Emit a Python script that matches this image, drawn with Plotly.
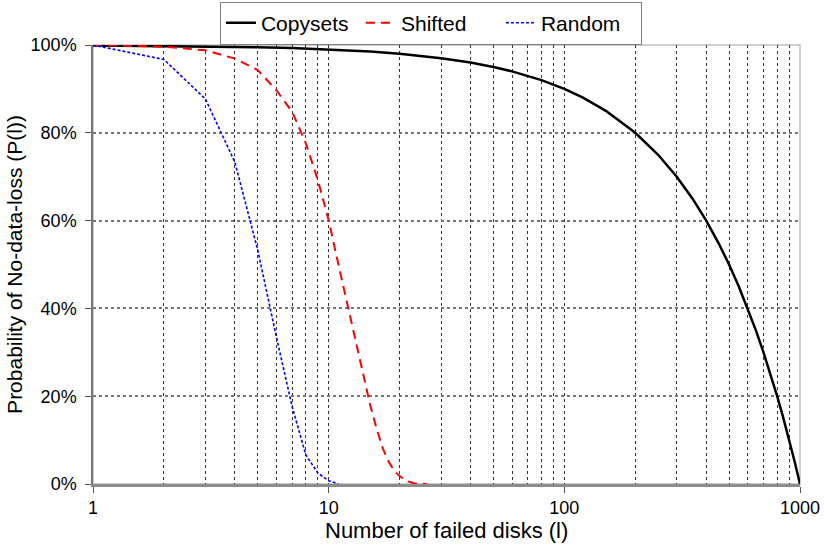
import plotly.graph_objects as go

# Data
copysets_x = [1, 2, 3, 5, 7, 10, 15, 20, 30, 40, 50, 60, 70, 80, 100, 120, 150, 200, 250, 300,
              350, 400, 450, 500, 550, 600, 650, 700, 750, 800, 850, 900, 950, 1000]
copysets_y = [0.999, 0.998, 0.997, 0.995, 0.993, 0.99, 0.985, 0.98, 0.97, 0.96, 0.95, 0.94, 0.93, 0.92,
              0.90, 0.88, 0.85, 0.80, 0.75, 0.70, 0.65, 0.60, 0.55, 0.50, 0.45, 0.40, 0.35, 0.30,
              0.25, 0.20, 0.15, 0.10, 0.05, 0.0]

shifted_x = [1, 2, 3, 4, 5, 6, 7, 8, 9, 10, 11, 12, 13, 14, 15, 16, 17, 18, 19, 20, 21, 22, 23, 24, 25, 26]
shifted_y = [1.0, 0.996, 0.988, 0.969, 0.943, 0.897, 0.848, 0.776, 0.692, 0.601, 0.50, 0.41, 0.33, 0.25,
             0.18, 0.125, 0.08, 0.05, 0.03, 0.018, 0.01, 0.005, 0.002, 0.001, 0.0, 0.0]

random_x = [1, 2, 3, 4, 5, 6, 7, 8, 9, 10, 11]
random_y = [1.0, 0.967, 0.877, 0.733, 0.533, 0.335, 0.176, 0.066, 0.025, 0.0075, 0.0]

x_major = [1, 10, 100, 1000]
x_major_labels = ["1", "10", "100", "1000"]
x_minor = [2, 3, 4, 5, 6, 7, 8, 9, 20, 30, 40, 50, 60, 70, 80, 90,
           200, 300, 400, 500, 600, 700, 800, 900]
y_ticks = [0, 0.2, 0.4, 0.6, 0.8, 1.0]
y_labels = ["0%", "20%", "40%", "60%", "80%", "100%"]

FONT = "Liberation Sans, Arial, sans-serif"

fig = go.Figure()
fig.add_trace(go.Scatter(x=copysets_x, y=copysets_y, mode="lines", name="Copysets",
                         line=dict(color="black", width=2.5)))
fig.add_trace(go.Scatter(x=shifted_x, y=shifted_y, mode="lines", name="Shifted",
                         line=dict(color="#ff0000", width=2, dash="9px,6px")))
fig.add_trace(go.Scatter(x=random_x, y=random_y, mode="lines", name="Random",
                         line=dict(color="#0000ff", width=1.6, dash="3px,2px")))

fig.update_layout(
    width=824, height=548,
    margin=dict(l=93, r=24, t=45, b=64, autoexpand=False),
    paper_bgcolor="white", plot_bgcolor="white",
    font=dict(family=FONT, size=18, color="black"),
    showlegend=True,
    legend=dict(orientation="h", x=0.478, xanchor="center", xref="paper",
                y=0.997, yanchor="top", yref="container",
                bordercolor="#7f7f7f", borderwidth=1, bgcolor="white",
                font=dict(family=FONT, size=21), itemwidth=30,
                entrywidth=95, entrywidthmode="pixels"),
    shapes=[dict(type="rect", xref="x domain", yref="y domain", x0=0, x1=1, y0=0, y1=1,
                 line=dict(color="#c0c0c0", width=1.5), layer="below")],
    annotations=[dict(text="Number of failed disks (l)", xref="x domain", yref="y domain",
                      x=0.5, y=-0.107, xanchor="center", yanchor="middle", showarrow=False,
                      font=dict(family=FONT, size=22))],
)

fig.update_xaxes(
    type="log", range=[0, 3], automargin=False,
    tickvals=x_major, ticktext=x_major_labels,
    ticks="outside", ticklen=6, tickcolor="#555", tickwidth=1,
    showgrid=True, gridcolor="#333", griddash="dot", gridwidth=1,
    minor=dict(tickvals=x_minor, showgrid=True, gridcolor="#333", griddash="dot", gridwidth=1, ticks=""),
    showline=True, linecolor="#8c8c8c", linewidth=2.5,
    zeroline=False,
    tickfont=dict(family=FONT, size=18),
)
fig.update_yaxes(
    range=[0, 1.0], tickvals=y_ticks, ticktext=y_labels, automargin=False,
    ticks="outside", ticklen=6, tickcolor="#555", ticklabelstandoff=5,
    showgrid=True, gridcolor="#777", griddash="dot", gridwidth=1.5,
    showline=True, linecolor="#777", linewidth=1.5,
    zeroline=False,
    tickfont=dict(family=FONT, size=18),
    title=dict(text="Probability of No-data-loss (P(l))", font=dict(family=FONT, size=21), standoff=2),
)

fig.write_html("out.html")
